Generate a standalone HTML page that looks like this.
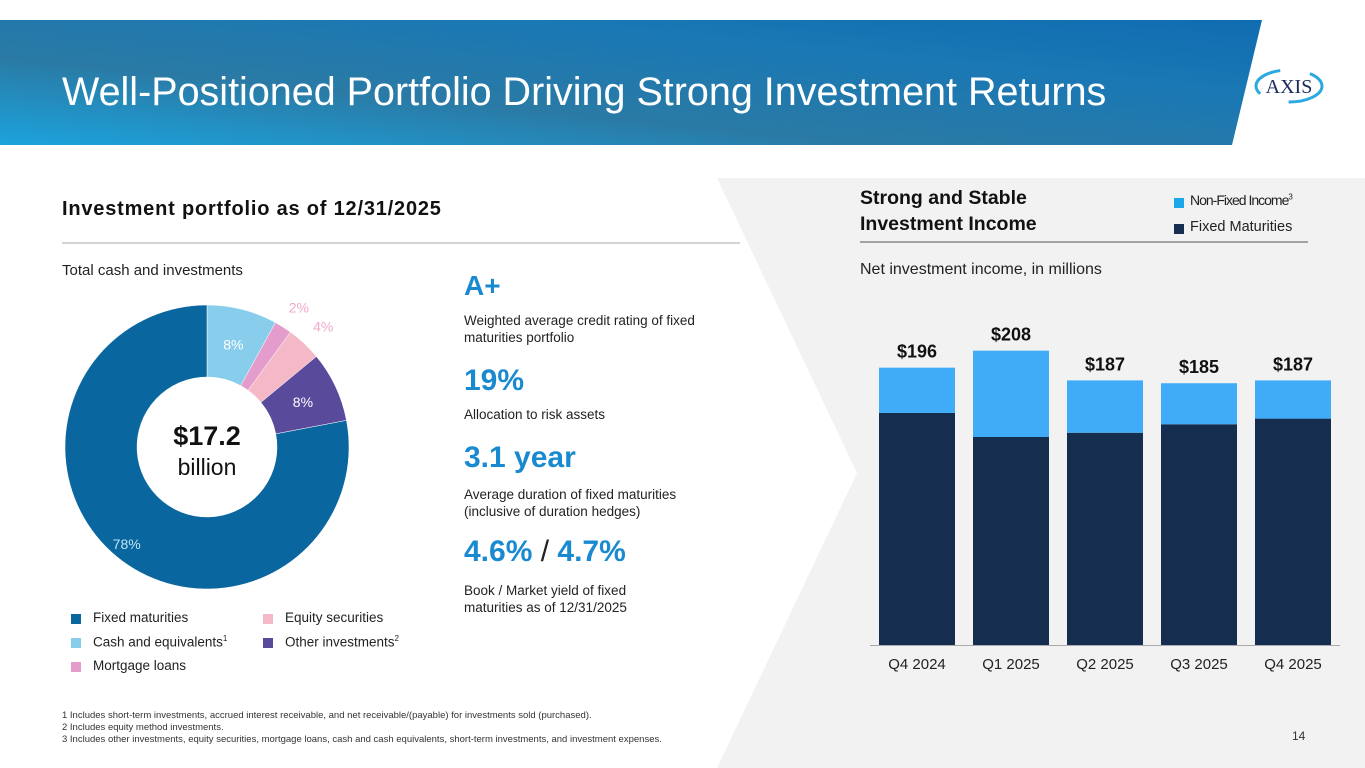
<!DOCTYPE html>
<html><head><meta charset="utf-8"><style>
body{margin:0;width:1365px;height:768px;overflow:hidden;background:#fff;font-family:"Liberation Sans",sans-serif;position:relative}
.a{position:absolute;margin:0;white-space:nowrap}
.blue{color:#1a8ad0;font-weight:bold}
.sm{font-size:13.5px;color:#222;line-height:17px}
.leg{font-size:13.5px;color:#222}
.sw{position:absolute;width:10px;height:10px}
</style></head><body>
<svg class="a" style="left:0;top:0" width="1365" height="768">
<defs><linearGradient id="hg" x1="0" y1="1" x2="1" y2="0">
<stop offset="0" stop-color="#1ca3dc"/><stop offset="0.35" stop-color="#2a7aa5"/><stop offset="0.7" stop-color="#1a78b4"/><stop offset="1" stop-color="#106cb0"/></linearGradient></defs>
<polygon points="0,20 1262,20 1232,145 0,145" fill="url(#hg)"/>
<polygon points="717,178 1365,178 1365,768 717,768 857,473" fill="#f2f2f2"/>
<line x1="62" y1="243" x2="740" y2="243" stroke="#aaa" stroke-width="1"/>
<line x1="860" y1="242" x2="1308" y2="242" stroke="#888" stroke-width="1.5"/>
</svg>
<h1 class="a" style="left:62px;top:70px;font-size:39.5px;font-weight:normal;color:#fff">Well-Positioned Portfolio Driving Strong Investment Returns</h1>
<div class="a" style="left:1252px;top:66px;width:74px;height:40px">
<svg width="74" height="40"><ellipse cx="37" cy="20" rx="33" ry="16" fill="none" stroke="#2aa8e0" stroke-width="3" stroke-dasharray="40 30"/><text x="37" y="27" text-anchor="middle" font-family="Liberation Serif" font-size="20" fill="#1a2a5a">AXIS</text></svg></div>

<div class="a" style="left:62px;top:198px;font-size:20px;letter-spacing:0.8px;font-weight:bold;color:#111">Investment portfolio as of 12/31/2025</div>
<div class="a" style="left:62px;top:262px;font-size:15px;color:#222">Total cash and investments</div>

<svg id="donut" class="a" style="left:0;top:280px" width="420" height="330"></svg>

<div class="a" style="left:464px;top:270px;font-size:28px"><span class="blue">A+</span></div>
<div class="a sm" style="left:464px;top:312px">Weighted average credit rating of fixed<br>maturities portfolio</div>
<div class="a" style="left:464px;top:364px;font-size:30px"><span class="blue">19%</span></div>
<div class="a sm" style="left:464px;top:406px">Allocation to risk assets</div>
<div class="a" style="left:464px;top:441px;font-size:30px"><span class="blue">3.1 year</span></div>
<div class="a sm" style="left:464px;top:486px">Average duration of fixed maturities<br>(inclusive of duration hedges)</div>
<div class="a" style="left:464px;top:535px;font-size:30px;color:#222"><span class="blue">4.6%</span> / <span class="blue">4.7%</span></div>
<div class="a sm" style="left:464px;top:582px">Book / Market yield of fixed<br>maturities as of 12/31/2025</div>

<div class="a">
<div class="sw" style="left:71px;top:614px;background:#0a669e"></div><div class="a leg" style="left:93px;top:610px">Fixed maturities</div>
<div class="sw" style="left:71px;top:638px;background:#88cdec"></div><div class="a leg" style="left:93px;top:634px">Cash and equivalents<sup style="font-size:8px">1</sup></div>
<div class="sw" style="left:71px;top:662px;background:#e49ccc"></div><div class="a leg" style="left:93px;top:658px">Mortgage loans</div>
<div class="sw" style="left:263px;top:614px;background:#f4b8c6"></div><div class="a leg" style="left:285px;top:610px">Equity securities</div>
<div class="sw" style="left:263px;top:638px;background:#5a4a9c"></div><div class="a leg" style="left:285px;top:634px">Other investments<sup style="font-size:8px">2</sup></div>
</div>

<div class="a" style="left:860px;top:185px;font-size:19.5px;font-weight:bold;color:#111;line-height:26px">Strong and Stable<br>Investment Income</div>
<div class="sw" style="left:1174px;top:198px;background:#1aa8e8"></div>
<div class="a" style="left:1190px;top:192px;font-size:14px;color:#222;letter-spacing:-1px">Non-Fixed Income<sup style="font-size:8px">3</sup></div>
<div class="sw" style="left:1174px;top:224px;background:#152d4e"></div>
<div class="a" style="left:1190px;top:219px;font-size:14.5px;color:#222">Fixed Maturities</div>
<div class="a" style="left:860px;top:261px;font-size:16px;color:#222">Net investment income, in millions</div>
<svg id="bars" class="a" style="left:860px;top:300px" width="500" height="390"></svg>

<div class="a" style="left:62px;top:710px;font-size:9.5px;color:#333;line-height:12px">1 Includes short-term investments, accrued interest receivable, and net receivable/(payable) for investments sold (purchased).<br>2 Includes equity method investments.<br>3 Includes other investments, equity securities, mortgage loans, cash and cash equivalents, short-term investments, and investment expenses.</div>
<div class="a" style="left:1292px;top:729px;font-size:12px;color:#333">14</div>

<script>
const donutCats=["Cash and equivalents","Mortgage loans","Equity securities","Other investments","Fixed maturities"];
const donutVals=[8,2,4,8,78];
const donutColors=["#88cdec","#e49ccc","#f4b8c6","#5a4a9c","#0a669e"];
const donutLabelColors=["#fff","#f0a8cc","#f0a8cc","#fff","#bfe4f6"];
const quarters=["Q4 2024","Q1 2025","Q2 2025","Q3 2025","Q4 2025"];
const fixedVals=[164,147,150,156,160];
const nonFixedVals=[32,61,37,29,27];
const totalLabels=["$196","$208","$187","$185","$187"];
const NS="http://www.w3.org/2000/svg";
function mk(p,t,a){const e=document.createElementNS(NS,t);for(const k in a)e.setAttribute(k,a[k]);p.appendChild(e);return e;}
const d=document.getElementById('donut');
const cx=207,cy=167,R=142,r=70;
const tot=donutVals.reduce((a,b)=>a+b,0);
let ang=0;
function pt(a,rad){return [cx+rad*Math.sin(a),cy-rad*Math.cos(a)];}
donutVals.forEach((v,i)=>{
 const a0=ang,a1=ang+v/tot*2*Math.PI;ang=a1;
 const lg=(a1-a0)>Math.PI?1:0;
 const [x0,y0]=pt(a0,R),[x1,y1]=pt(a1,R),[x2,y2]=pt(a1,r),[x3,y3]=pt(a0,r);
 const p=mk(d,'path',{d:`M${x0},${y0}A${R},${R} 0 ${lg} 1 ${x1},${y1}L${x2},${y2}A${r},${r} 0 ${lg} 0 ${x3},${y3}Z`,fill:donutColors[i],stroke:'#fff','stroke-width':0.5});
 
 
 const am=(a0+a1)/2;
 let lx,ly,c=donutLabelColors[i];
 if(v>=5){const q=pt(am,(R+r)/2+(v>50?20:0));lx=q[0];ly=q[1]+5;}
 else{const q=pt(am,R+22);lx=q[0]+4;ly=q[1]+4;}
 const t=mk(d,'text',{x:lx,y:ly,'text-anchor':'middle','font-size':14,fill:c,'font-family':'Liberation Sans'});
 t.textContent=v+'%';
 
 
});
let t=mk(d,'text',{x:cx,y:cy-2,'text-anchor':'middle','font-size':27,'font-weight':'bold',fill:'#111'});t.textContent='$17.2';


t=mk(d,'text',{x:cx,y:cy+28,'text-anchor':'middle','font-size':23,fill:'#111'});t.textContent='billion';


const b=document.getElementById('bars');
const base=345,scale=1.415,x0=19,step=94,bw=76;
const y=v=>base-v*scale;
mk(b,'line',{x1:10,y1:base+0.5,x2:480,y2:base+0.5,stroke:'#aaa','stroke-width':1});
quarters.forEach((q,i)=>{
 const x=x0+i*step;
 const f=mk(b,'rect',{x:x,y:y(fixedVals[i]),width:bw,height:fixedVals[i]*scale,fill:'#152d4e'});
 
 
 const n=mk(b,'rect',{x:x,y:y(fixedVals[i]+nonFixedVals[i]),width:bw,height:nonFixedVals[i]*scale,fill:'#40acf8'});
 
 
 const l=mk(b,'text',{x:x+bw/2,y:y(fixedVals[i]+nonFixedVals[i])-10,'text-anchor':'middle','font-size':18,'font-weight':'bold',fill:'#111'});
 l.textContent=totalLabels[i];
 
 
 const c=mk(b,'text',{x:x+bw/2,y:base+24,'text-anchor':'middle','font-size':15,fill:'#222'});
 c.textContent=q;
 
 
});
</script>
</body></html>
